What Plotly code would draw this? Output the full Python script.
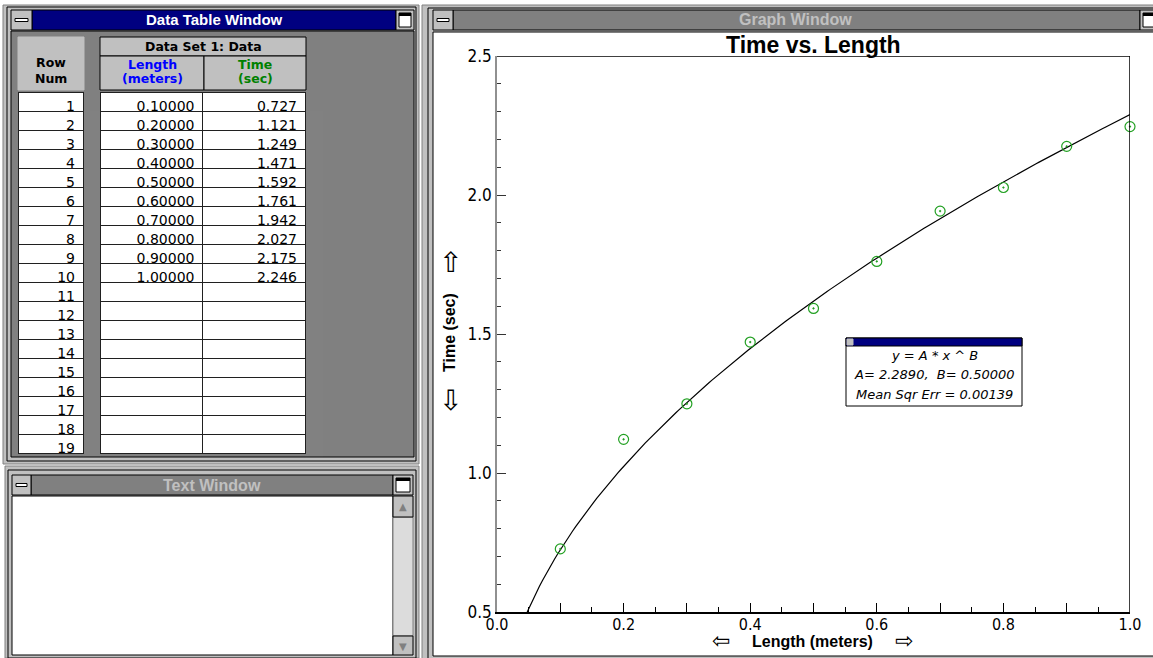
import plotly.graph_objects as go

W, H = 1153, 658

# ---- data ----
row_num = list(range(1, 20))
length_m = [0.1, 0.2, 0.3, 0.4, 0.5, 0.6, 0.7, 0.8, 0.9, 1.0]
time_s = [0.727, 1.121, 1.249, 1.471, 1.592, 1.761, 1.942, 2.027, 2.175, 2.246]
fit_A = 2.2890
fit_B = 0.50000
fit_mse = 0.00139
x_ticks = [0.0, 0.1, 0.2, 0.3, 0.4, 0.5, 0.6, 0.7, 0.8, 0.9, 1.0]
x_tick_text = ["0.0", "", "0.2", "", "0.4", "", "0.6", "", "0.8", "", "1.0"]
y_ticks = [0.5, 1.0, 1.5, 2.0, 2.5]
y_tick_text = ["0.5", "1.0", "1.5", "2.0", "2.5"]

NAVY = "#000080"
DG = "#808080"
LG = "#c0c0c0"
FONT = "Liberation Sans"
UI = "DejaVu Sans"


def px(x):
    return x / W


def py(y):
    return 1 - y / H


shapes = []
annots = []


def rect(x0, y0, x1, y1, fill, line="black", lw=1, layer="below"):
    shapes.append(dict(type="rect", xref="paper", yref="paper",
                       x0=px(x0), x1=px(x1), y0=py(y1), y1=py(y0),
                       fillcolor=fill, line=dict(color=line, width=lw), layer=layer))


def text(x, y, s, size=13, color="black", bold=False, italic=False, family=FONT,
         angle=0, xanchor="center"):
    if bold:
        s = "<b>" + s + "</b>"
    if italic:
        s = "<i>" + s + "</i>"
    annots.append(dict(xref="paper", yref="paper", x=px(x), y=py(y), text=s,
                       showarrow=False, xanchor=xanchor, yanchor="middle",
                       textangle=angle, font=dict(family=family, size=size, color=color)))


def sysbox(x0, y0, x1, y1):
    rect(x0, y0, x1, y1, LG)
    cy = (y0 + y1) / 2
    rect(x0 + 4, cy - 1.5, x1 - 4, cy + 1.5, "white")


def maxbox(x0, y0, x1, y1):
    rect(x0, y0, x1, y1, LG)
    rect(x0 + 3, y0 + 3, x1 - 3, y1 - 3, "white", lw=1)
    rect(x0 + 3, y0 + 3, x1 - 3, y0 + 6, "black", lw=0)


# ---- Data Table Window ----
rect(3, 5, 419, 464, LG, line=DG)
rect(7, 7, 416, 461, LG)
rect(11, 31, 414, 457, DG)
rect(32, 10, 396, 30, NAVY)
sysbox(11, 10, 32, 30)
maxbox(396, 10, 414, 30)
text(214, 20, "Data Table Window", 15, "white", bold=True)
# headers
rect(18, 37, 84, 90, LG, line=LG)
text(51, 63, "Row", 12.5, bold=True, family=UI)
text(51, 79, "Num", 12.5, bold=True, family=UI)
rect(100, 37, 306, 56, LG)
text(203, 47, "Data Set 1: Data", 12.5, bold=True, family=UI)
rect(100, 56, 204, 90, LG)
rect(204, 56, 306, 90, LG)
text(152, 64, "Length", 12.5, "#0000ff", bold=True, family=UI)
text(152, 79, "(meters)", 12.5, "#0000ff", bold=True, family=UI)
text(255, 64, "Time", 12.5, "#008000", bold=True, family=UI)
text(255, 79, "(sec)", 12.5, "#008000", bold=True, family=UI)

# ---- Text Window ----
rect(5, 466, 419, 658, LG, line=DG)
rect(8, 470, 416, 658, LG)
rect(31, 475, 393, 495, DG)
sysbox(12, 475, 31, 495)
maxbox(393, 475, 413, 495)
text(212, 485, "Text Window", 16, LG, bold=True)
rect(12, 496, 393, 655, "white")
rect(393, 517, 413, 636, "#dcdcdc", line=DG)
rect(393, 496, 413, 517, LG)
rect(393, 636, 413, 655, LG)
text(403, 506, "▲", 10, DG, family=UI)
text(403, 646, "▼", 10, DG, family=UI)

# ---- Graph Window ----
rect(422, 5, 1165, 665, LG, line=DG)
rect(428, 8, 1165, 662, LG)
rect(453, 10, 1140, 30, DG)
sysbox(433, 10, 453, 30)
maxbox(1140, 10, 1165, 30)
text(795, 20, "Graph Window", 16, LG, bold=True)
rect(433, 32, 1165, 656, "white")

# graph box top/right
shapes.append(dict(type="line", xref="x", yref="y", x0=0, x1=1, y0=2.5, y1=2.5,
                   line=dict(color="black", width=1.5), layer="above"))
shapes.append(dict(type="line", xref="x", yref="y", x0=1, x1=1, y0=0.5, y1=2.5,
                   line=dict(color="black", width=1.5), layer="above"))

# titles
text(813, 45, "Time vs. Length", 23, bold=True)
text(450, 333, "Time (sec)", 16, bold=True, angle=-90)
text(450, 262, "⇧", 28, family=UI)
text(450, 400, "⇩", 28, family=UI)
text(812, 641, "Length (meters)", 16, bold=True)
text(721, 640, "⇦", 22, family=UI)
text(904, 640, "⇨", 22, family=UI)

# fit box
rect(846, 338, 1022, 406, "white", layer="above")
rect(846, 338, 1022, 346, NAVY, layer="above")
rect(847, 339, 853, 345, LG, line=LG, layer="above")
text(934, 355, "y = A * x ^ B", 13, italic=True, family=UI)
text(934, 374, "A= %.4f,  B= %.5f" % (fit_A, fit_B), 13, italic=True, family=UI)
text(934, 394, "Mean Sqr Err = %.5f" % fit_mse, 13, italic=True, family=UI)

fig = go.Figure()

# ---- tables: first row in header slot, rest in cells ----
cell_font = dict(family=UI, size=14, color="black")
rn_txt = [str(r) for r in row_num]
fig.add_trace(go.Table(
    domain=dict(x=[px(18), px(84)], y=[py(458), py(92)]),
    columnwidth=[1],
    header=dict(values=[rn_txt[0]], height=19, fill_color="white",
                line_color="#202020", align="right", font=cell_font),
    cells=dict(values=[rn_txt[1:]], height=19, fill_color="white",
               line_color="#202020", align="right", font=cell_font),
))

len_txt = ["%.5f" % v for v in length_m] + [""] * (len(row_num) - len(length_m))
time_txt = ["%.3f" % v for v in time_s] + [""] * (len(row_num) - len(time_s))
fig.add_trace(go.Table(
    domain=dict(x=[px(100), px(306)], y=[py(458), py(92)]),
    columnwidth=[1, 1],
    header=dict(values=[len_txt[0], time_txt[0]], height=19, fill_color="white",
                line_color="#202020", align="right", font=cell_font),
    cells=dict(values=[len_txt[1:], time_txt[1:]], height=19, fill_color="white",
               line_color="#202020", align="right", font=cell_font),
))

# ---- graph ----
n = 200
x0 = (0.5 / fit_A) ** (1 / fit_B)
xs = [x0 + (1 - x0) * i / (n - 1) for i in range(n)]
fig.add_trace(go.Scatter(x=xs, y=[fit_A * x ** fit_B for x in xs], mode="lines",
                         line=dict(color="black", width=1.2), hoverinfo="skip",
                         showlegend=False))
fig.add_trace(go.Scatter(x=length_m, y=time_s, mode="markers",
                         marker=dict(symbol="circle-open-dot", size=10,
                                     color="#22a022", line=dict(width=1.2)),
                         showlegend=False, cliponaxis=False))

fig.update_layout(
    width=W, height=H, autosize=False,
    margin=dict(l=0, r=0, t=0, b=0, pad=0, autoexpand=False),
    paper_bgcolor="white", plot_bgcolor="rgba(0,0,0,0)",
    shapes=shapes, annotations=annots, showlegend=False,
    xaxis=dict(domain=[px(497), px(1130)], range=[0, 1], tickvals=x_ticks,
               ticktext=x_tick_text, ticks="inside", ticklen=9, tickcolor="black",
               showline=True, linecolor="black", linewidth=1.5, showgrid=False,
               zeroline=False, fixedrange=True, automargin=False,
               ticklabelstandoff=-3,
               minor=dict(dtick=0.05, ticks="inside", ticklen=5, tickcolor="black",
                          showgrid=False),
               tickfont=dict(family="DejaVu Sans Condensed", size=16, color="black")),
    yaxis=dict(domain=[py(612), py(56)], range=[0.5, 2.5], tickvals=y_ticks,
               ticktext=y_tick_text, ticks="inside", ticklen=9, tickcolor="#333333",
               showline=True, linecolor="#909090", linewidth=1.5, showgrid=False,
               zeroline=False, fixedrange=True, automargin=False,
               minor=dict(dtick=0.1, ticks="inside", ticklen=4, tickcolor="#333333",
                          showgrid=False),
               tickfont=dict(family="DejaVu Sans Condensed", size=17, color="black")),
)

fig.write_html("out.html", config={"displayModeBar": False},
               post_script="document.body.style.margin='0';document.body.style.overflow='hidden';")
